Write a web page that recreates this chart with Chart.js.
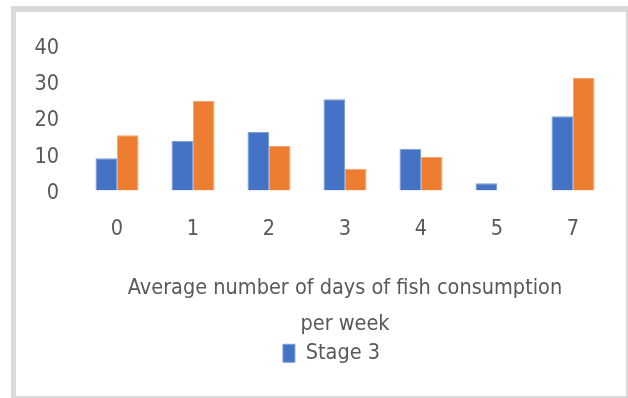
<!DOCTYPE html>
<html>
<head>
<meta charset="utf-8">
<script src="https://cdn.jsdelivr.net/npm/chart.js@4/dist/chart.umd.min.js"></script>
<style>
  html, body { margin: 0; padding: 0; background: #ffffff; }
  body { width: 628px; height: 398px; position: relative; overflow: hidden; }
  .frame {
    position: absolute; left: 11px; top: 6px; right: 0; bottom: 0;
    border-style: solid; border-color: #d9d9d9;
    border-width: 6px 2px 2px 5px;
    background: #ffffff;
  }
  canvas { position: absolute; left: 0; top: 0; }
</style>
</head>
<body>
<div class="frame"></div>
<canvas id="chart" width="628" height="398"></canvas>
<script>
// Days per week on which fish is eaten
const categories = ['0', '1', '2', '3', '4', '5', '7'];
// Share of respondents per category
const stage3Values = [8.9, 13.6, 16.1, 25.1, 11.5, 2.0, 20.4];
const secondValues = [15.2, 24.6, 12.2, 6.0, 9.2, 0, 30.9];
const yTicks = [0, 10, 20, 30, 40];
const axisTitle = ['Average number of days of fish consumption', 'per week'];

const FONT = '"Liberation Sans Narrow", "DejaVu Sans Condensed", "Roboto Condensed", sans-serif';
const TEXT = '#595959';
const SIZE = 21.5;

// Nudge the legend row so it sits under the axis title
const legendShift = {
  id: 'legendShift',
  afterLayout(chart) {
    const lg = chart.legend;
    if (lg) { lg.left += 26; lg.right += 26; }
  }
};

new Chart(document.getElementById('chart'), {
  type: 'bar',
  data: {
    labels: categories,
    datasets: [
      {
        label: 'Stage 3',
        data: stage3Values,
        backgroundColor: '#4472c4',
        borderColor: '#7f9fd8',
        borderWidth: 1,
        categoryPercentage: 0.566,
        barPercentage: 1
      },
      {
        label: '',
        data: secondValues,
        backgroundColor: '#ed7d31',
        borderColor: '#f3a36f',
        borderWidth: 1,
        categoryPercentage: 0.566,
        barPercentage: 1
      }
    ]
  },
  plugins: [legendShift],
  options: {
    responsive: false,
    devicePixelRatio: 1,
    animation: false,
    layout: { padding: { top: 45, left: 0, right: 17, bottom: 24 } },
    scales: {
      x: {
        grid: { display: false, drawTicks: false },
        border: { display: false },
        ticks: { color: TEXT, font: { family: FONT, size: SIZE }, padding: 26 },
        title: {
          display: true,
          text: axisTitle,
          color: TEXT,
          font: { family: FONT, size: SIZE, lineHeight: '36px' },
          padding: { top: 0, bottom: 0 }
        },
        afterFit: (scale) => { scale.height = 152; }
      },
      y: {
        min: 0,
        max: 40,
        afterBuildTicks: (scale) => { scale.ticks = yTicks.map(v => ({ value: v })); },
        grid: { display: false, drawTicks: false },
        border: { display: false },
        ticks: { color: TEXT, font: { family: FONT, size: SIZE }, padding: 20, labelOffset: 3 },
        afterFit: (scale) => { scale.width = 79; }
      }
    },
    plugins: {
      legend: {
        position: 'bottom',
        labels: {
          color: TEXT,
          font: { family: FONT, size: SIZE },
          boxWidth: 12,
          boxHeight: 18,
          padding: 0,
          filter: (item) => item.text !== ''
        }
      },
      tooltip: { enabled: false }
    }
  }
});
</script>
</body>
</html>
